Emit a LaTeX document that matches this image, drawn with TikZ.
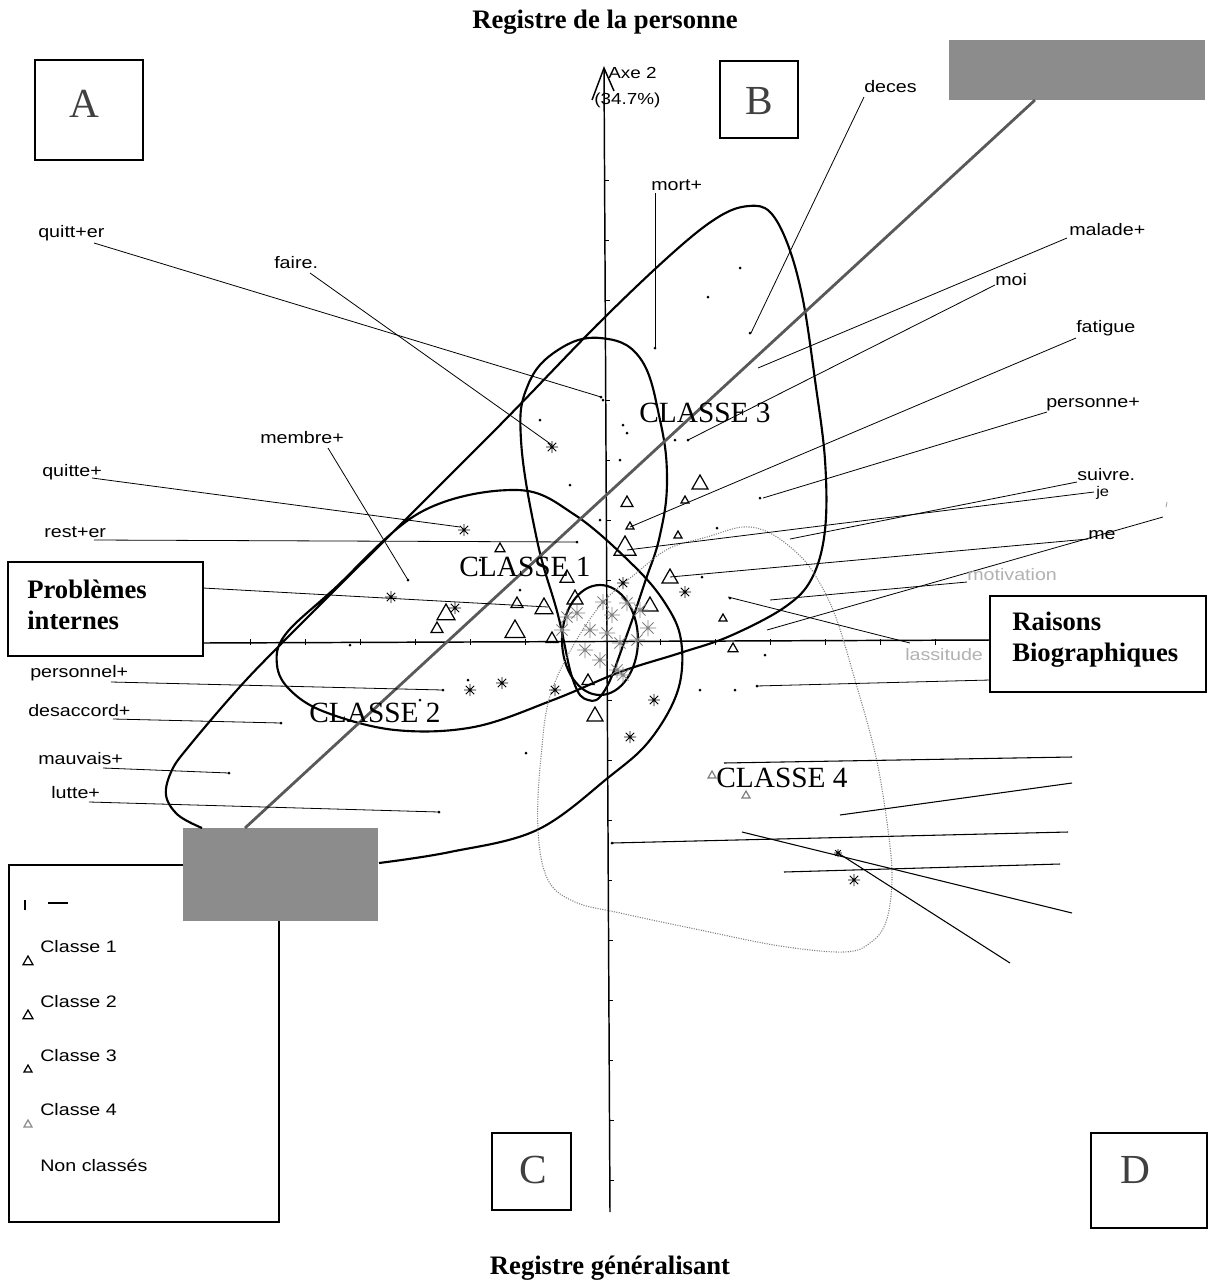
\documentclass[tikz,border=0pt]{standalone}
\usepackage{fontspec}
\setmainfont{Liberation Serif}
\newfontfamily\lab[FakeStretch=1.18]{Liberation Sans}
\begin{document}
\begin{tikzpicture}[x=0.75pt,y=-0.75pt,
  lbl/.style={font=\lab\fontsize{12.5}{14}\selectfont, anchor=west, inner sep=0pt},
  faint/.style={lbl, text=black!30},
  conn/.style={line width=0.6pt, black},
  clus/.style={line width=1.6pt, black, line join=round},
  axisl/.style={line width=1.1pt, black},
  letterbox/.style={line width=1.1pt, black},
  bigletter/.style={font=\fontsize{31}{31}\selectfont, text=black!75},
  classlbl/.style={font=\fontsize{22}{23}\selectfont},
  boldbox/.style={font=\fontsize{20}{23.5}\selectfont\bfseries, align=left, anchor=west, inner sep=0pt},
  titlefont/.style={font=\fontsize{20}{22}\selectfont\bfseries},
  graybox/.style={fill=black!45},
  pics/tri/.style={code={\draw[line width=0.9pt, line join=miter] (-#1,0.75*#1) -- (0,-#1) -- (#1,0.75*#1) -- cycle;}},
  pics/tri/.default=6,
  pics/ast/.style={code={\draw[line width=0.7pt] (-#1,0)--(#1,0) (0,-#1)--(0,#1) (-0.7*#1,-0.7*#1)--(0.7*#1,0.7*#1) (-0.7*#1,0.7*#1)--(0.7*#1,-0.7*#1);}},
  pics/ast/.default=6
]
\fill[white] (0,0) rectangle (1208,1286);
\useasboundingbox (0,0) rectangle (1208,1286);

% ---------- titles ----------
\node[titlefont] (t1) at (605,22) {Registre de la personne};
\node[titlefont] (t2) at (610,1268) {Registre généralisant};

% ---------- letter boxes ----------
\draw[letterbox] (35,60) rectangle (143,160);
\node[bigletter] (A) at (84,104) {A};
\draw[letterbox] (720,61) rectangle (798,138);
\node[bigletter] (B) at (759,101) {B};
\draw[letterbox] (492,1133) rectangle (571,1210);
\node[bigletter] (C) at (533,1170) {C};
\draw[letterbox] (1091,1133) rectangle (1207,1228);
\node[bigletter] (D) at (1135,1170) {D};

% ---------- axes ----------
\coordinate (ax2top) at (604,68);
\coordinate (ax2bot) at (610,1212);
\draw[axisl] (ax2top) -- (ax2bot);
\draw[axisl] (592,100) -- (ax2top) -- (614,91);
\node[lbl, font=\lab\fontsize{12}{14}\selectfont] (axe) at (608,73) {Axe 2};
\node[lbl, font=\lab\fontsize{12}{14}\selectfont] (pct) at (594,100) {(34.7\%)};
\coordinate (ax1l) at (203,643);
\coordinate (ax1r) at (990,640);
\draw[axisl] (ax1l) -- (ax1r);
\foreach \x in {250,305,360,415,470,525,660,715,770,825,880,935}
  \draw[line width=0.6pt] (\x,639) -- (\x,645);
\foreach \y in {180,240,300,400,460,520,580,700,760,820,880,940,1000,1060,1120,1180}
  \draw[line width=0.5pt] (604+\y/200,\y) -- (608+\y/200,\y);

% ---------- boxes with text ----------
\draw[line width=1.4pt] (8,562) rectangle (203,656);
\node[boldbox] (pi) at (27,605) {Problèmes\\internes};
\draw[line width=1.4pt] (990,596) rectangle (1206,692);
\node[boldbox] (rb) at (1012,640) {Raisons\\Biographiques};

% ---------- gray masking boxes ----------
\fill[graybox] (949,40) rectangle (1205,100);
\coordinate (gbtr) at (1035,100);

% ---------- legend ----------
\draw[line width=0.9pt] (183,865) -- (9,865) -- (9,1222) -- (279,1222) -- (279,920);
\fill[graybox] (183,828) rectangle (378,921);
\coordinate (gbbl) at (245,828);
\draw[line width=0.8pt] (25,900) -- (25,910);
\draw[line width=0.8pt] (48,903) -- (68,903);
\node[lbl] (l1) at (40,947) {Classe 1};
\pic at (28,961) {tri=5};
\node[lbl] (l2) at (40,1002) {Classe 2};
\pic at (28,1015) {tri=5};
\node[lbl] (l3) at (40,1056) {Classe 3};
\pic at (28,1069) {tri=4};
\node[lbl] (l4) at (40,1110) {Classe 4};
\pic[black!45] at (28,1124) {tri=4};
\node[lbl] (l5) at (40,1165) {Non classés};

% ---------- cluster curves ----------
\draw[clus] plot[smooth, tension=0.6] coordinates {
 (202,828) (178,815) (166,795) (172,770) (190,745) (237,690) (280,645) (380,545) (500,425)
 (600,322) (676,250) (720,216) (749,206) (770,212) (788,245) (803,300) (815,380) (825,460)
 (825,530) (812,578) (785,607) (730,636) (680,653) (620,672) (553,700) (474,727) (395,730)
 (325,712) (290,690) (277,665) (285,635) (333,590) (421,512) (517,490) (575,515) (633,565)
 (665,603) (681,640) (678,690) (650,740) (609,777) (537,830) (450,852) (379,863)};
\draw[clus] plot[smooth cycle, tension=0.7] coordinates {
 (600,338) (640,358) (660,420) (667,480) (660,535) (645,582) (625,640) (605,690) (588,700)
 (573,680) (558,615) (537,540) (521,440) (528,385) (558,350)};
\draw[clus] (600,640) ellipse [x radius=38, y radius=55];
\draw[line width=0.8pt, black!50, densely dotted] plot[smooth cycle, tension=0.6] coordinates {
 (640,570) (670,548) (707,537) (743,527) (770,533) (797,553) (815,575) (835,615) (855,680)
 (876,757) (888,830) (892,880) (886,922) (870,943) (844,952) (780,946) (700,930) (620,913)
 (575,902) (548,880) (538,830) (541,757) (553,687) (595,612)};
\draw[line width=2.1pt, black!65] (gbbl) -- (gbtr);

% ---------- labels and connectors ----------
\node[lbl] (quitter) at (38,233) {quitt+er};
\coordinate (q1) at (94,243); \coordinate (q2) at (601,397);
\draw[conn] (q1) -- (q2);
\node[lbl] (faire) at (274,263) {faire.};
\coordinate (f1) at (310,273); \coordinate (f2) at (552,445);
\draw[conn] (f1) -- (f2);
\node[lbl] (membre) at (260,438) {membre+};
\coordinate (m1) at (328,448); \coordinate (m2) at (408,580);
\draw[conn] (m1) -- (m2);
\node[lbl] (quitte) at (42,472) {quitte+};
\coordinate (qt1) at (92,478); \coordinate (qt2) at (460,527);
\draw[conn] (qt1) -- (qt2);
\node[lbl] (rester) at (44,532) {rest+er};
\coordinate (r1) at (94,540); \coordinate (r2) at (577,542);
\draw[conn] (r1) -- (r2);
\coordinate (pi1) at (203,588); \coordinate (pi2) at (548,607);
\draw[conn] (pi1) -- (pi2);
\node[lbl] (personnel) at (30,673) {personnel+};
\coordinate (pl1) at (111,682); \coordinate (pl2) at (443,690);
\draw[conn] (pl1) -- (pl2);
\node[lbl] (desaccord) at (28,711) {desaccord+};
\coordinate (d1) at (113,719); \coordinate (d2) at (281,723);
\draw[conn] (d1) -- (d2);
\node[lbl] (mauvais) at (38,759) {mauvais+};
\coordinate (mv1) at (103,768); \coordinate (mv2) at (229,773);
\draw[conn] (mv1) -- (mv2);
\node[lbl] (lutte) at (51,793) {lutte+};
\coordinate (lt1) at (89,802); \coordinate (lt2) at (439,812);
\draw[conn] (lt1) -- (lt2);

\node[lbl] (deces) at (864,87) {deces};
\coordinate (dc1) at (864,97); \coordinate (dc2) at (751,333);
\draw[conn] (dc1) -- (dc2);
\node[lbl] (mort) at (651,185) {mort+};
\coordinate (mo1) at (655,193); \coordinate (mo2) at (655,348);
\draw[conn] (mo1) -- (mo2);
\node[lbl] (malade) at (1069,230) {malade+};
\coordinate (ml1) at (1067,238); \coordinate (ml2) at (758,368);
\draw[conn] (ml1) -- (ml2);
\node[lbl] (moi) at (995,280) {moi};
\coordinate (mi1) at (995,285); \coordinate (mi2) at (688,440);
\draw[conn] (mi1) -- (mi2);
\node[lbl] (fatigue) at (1076,328) {fatigue};
\coordinate (fa1) at (1076,338); \coordinate (fa2) at (630,527);
\draw[conn] (fa1) -- (fa2);
\node[lbl] (personne) at (1046,404) {personne+};
\coordinate (pe1) at (1047,412); \coordinate (pe2) at (763,498);
\draw[conn] (pe1) -- (pe2);
\node[lbl] (suivre) at (1077,475) {suivre.};
\node[lbl, font=\lab\fontsize{10.5}{11}\selectfont] (je) at (1096,493) {je};
\coordinate (s1) at (1077,482); \coordinate (s2) at (790,539);
\draw[conn] (s1) -- (s2);
\coordinate (je1) at (1094,492); \coordinate (je2) at (627,550);
\draw[conn] (je1) -- (je2);
\node[lbl] (me) at (1088,535) {me};
\coordinate (me1) at (1088,539); \coordinate (me2) at (670,577);
\draw[conn] (me1) -- (me2);
\coordinate (tk1) at (1163,517); \coordinate (tk2) at (767,630);
\draw[conn] (tk1) -- (tk2);
\draw[line width=0.6pt, black!40] (1166,507) -- (1167,502);
\node[faint] (motiv) at (967,575) {motivation};
\coordinate (mt1) at (967,582); \coordinate (mt2) at (770,600);
\draw[conn] (mt1) -- (mt2);
\node[faint] (lassi) at (905,655) {lassitude};
\coordinate (la1) at (910,643); \coordinate (la2) at (728,597);
\draw[conn] (la1) -- (la2);
\coordinate (rb1) at (990,680); \coordinate (rb2) at (756,686);
\draw[conn] (rb1) -- (rb2);

% bottom right connectors (labels masked)
\coordinate (b1a) at (724,763); \coordinate (b1b) at (1072,757);
\draw[conn, line width=0.8pt] (b1a) -- (b1b);
\coordinate (b2a) at (840,815); \coordinate (b2b) at (1072,783);
\draw[conn, line width=0.8pt] (b2a) -- (b2b);
\coordinate (b3a) at (612,843); \coordinate (b3b) at (1068,832);
\draw[conn, line width=0.8pt] (b3a) -- (b3b);
\coordinate (b4a) at (784,872); \coordinate (b4b) at (1060,864);
\draw[conn, line width=0.8pt] (b4a) -- (b4b);
\coordinate (b5a) at (742,832); \coordinate (b5b) at (1072,913);
\draw[conn, line width=0.8pt] (b5a) -- (b5b);
\coordinate (b6a) at (838,853); \coordinate (b6b) at (1010,963);
\draw[conn, line width=0.8pt] (b6a) -- (b6b);

% ---------- class names ----------
\node[classlbl] (c3) at (705,413) {CLASSE 3};
\node[classlbl] (c1) at (525,567) {CLASSE 1};
\node[classlbl] (c2) at (375,713) {CLASSE 2};
\node[classlbl] (c4) at (782,778) {CLASSE 4};

% ---------- markers ----------
\foreach \x/\y/\s in {700/483/8, 627/502/6, 630/526/4, 678/535/4, 685/500/4, 625/547/11,
  670/577/8, 723/618/4, 733/648/5, 500/548/5, 567/577/7, 517/603/6, 544/607/9,
  446/613/9, 437/628/6, 515/630/10, 552/638/6, 588/680/6, 595/715/8, 650/605/8, 575/598/8}
  \pic at (\x,\y) {tri=\s};
\foreach \x/\y/\s in {712/775/4, 746/795/4}
  \pic[black!50] at (\x,\y) {tri=\s};
\foreach \x/\y in {552/447, 464/530, 391/597, 455/608, 470/690, 502/683, 555/690, 623/583,
  685/592, 654/700, 630/737, 854/880}
  \pic at (\x,\y) {ast=6};
\pic at (838,853) {ast=4};
\foreach \x/\y in {603/602, 627/603, 640/610, 577/613, 590/630, 607/633, 620/643, 637/640,
  600/660, 617/670, 623/675, 567/617, 562/630, 612/615, 585/650, 648/628}
  \pic[black!50] at (\x,\y) {ast=8};
\foreach \x/\y in {408/580, 443/690, 281/723, 229/773, 439/812, 577/542, 601/397, 675/440,
  627/433, 717/528, 765/655, 702/577, 526/753, 708/297, 623/425, 603/400, 570/485,
  735/690, 757/686, 730/598, 760/498, 688/440, 750/333, 655/348, 740/268, 540/420,
  480/560, 350/645, 468/680, 420/700, 600/520, 620/460, 700/690, 520/590, 612/843}
  \fill (\x,\y) circle (1.5);
\end{tikzpicture}
\end{document}
